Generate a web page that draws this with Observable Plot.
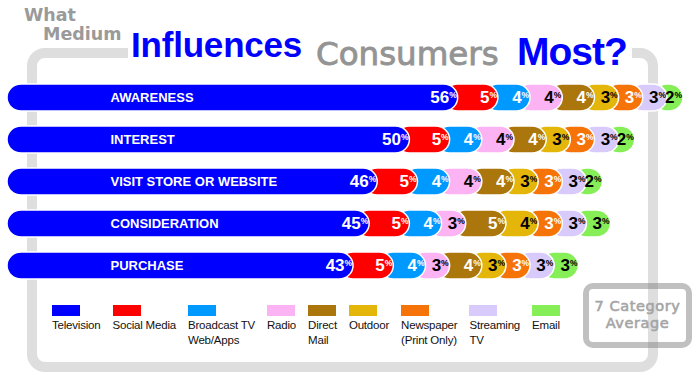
<!DOCTYPE html>
<html>
<head>
<meta charset="utf-8">
<script src="https://cdn.jsdelivr.net/npm/d3@7"></script>
<script src="https://cdn.jsdelivr.net/npm/@observablehq/plot@0.6"></script>
<style>
  html, body { margin: 0; padding: 0; background: white; }
  #wrap { position: relative; width: 700px; height: 380px; overflow: hidden; }
  #wrap > * { position: absolute; left: 0; top: 0; }
  #legend { left: 52px; top: 305px; display: flex; gap: 12px; font-family: "Liberation Sans", Arial, sans-serif; font-size: 11.5px; color: #111; }
  .sw { width: 28px; height: 11px; }
  .lb { margin-top: 2px; line-height: 15px; white-space: pre; letter-spacing: -0.2px; }
</style>
</head>
<body>
<div id="wrap">
  <svg id="bg" width="700" height="380">
    <rect x="32" y="53" width="621" height="314" rx="13" fill="none" stroke="#dedede" stroke-width="10"></rect>
    <rect x="128" y="44" width="504" height="18" fill="white"></rect>
    <text x="24" y="21" font-family="DejaVu Sans" font-weight="bold" font-size="17.5" fill="#9a9a9a">What</text>
    <text x="43" y="40" font-family="DejaVu Sans" font-weight="bold" font-size="17.5" fill="#9a9a9a">Medium</text>
    <text x="131" y="57" font-family="Liberation Sans, Arial" font-weight="bold" font-size="35" letter-spacing="-0.2" fill="#0000ff">Influences</text>
    <text x="316" y="65" font-family="DejaVu Sans" font-size="32.5" fill="#949494" stroke="#949494" stroke-width="0.9">Consumers</text>
    <text x="517" y="65" font-family="Liberation Sans, Arial" font-weight="bold" font-size="39" letter-spacing="-1" fill="#0000ff">Most?</text>
  </svg>
  <div id="plot"></div>
  <svg id="fg" width="700" height="380">
    <rect x="586" y="286" width="103" height="59" rx="7" fill="none" stroke="rgba(130,130,130,0.5)" stroke-width="6"></rect>
    <text x="637.5" y="311" text-anchor="middle" font-family="DejaVu Sans" font-size="14.5" letter-spacing="0.6" fill="#a5a5a5" stroke="#a5a5a5" stroke-width="0.6">7 Category</text>
    <text x="637.5" y="328" text-anchor="middle" font-family="DejaVu Sans" font-size="14.5" letter-spacing="0.6" fill="#a5a5a5" stroke="#a5a5a5" stroke-width="0.6">Average</text>
  </svg>
  <div id="legend"></div>
</div>
<script>
// ---- data ----
const stages = ["AWARENESS", "INTEREST", "VISIT STORE OR WEBSITE", "CONSIDERATION", "PURCHASE"];
const media = ["Television", "Social Media", "Broadcast TV Web/Apps", "Radio", "Direct Mail", "Outdoor", "Newspaper (Print Only)", "Streaming TV", "Email"];
const legendLabels = ["Television", "Social Media", "Broadcast TV\nWeb/Apps", "Radio", "Direct\nMail", "Outdoor", "Newspaper\n(Print Only)", "Streaming\nTV", "Email"];
const television  = [56, 50, 46, 45, 43];
const socialMedia = [5, 5, 5, 5, 5];
const broadcastTV = [4, 4, 4, 4, 4];
const radio       = [4, 4, 4, 3, 3];
const directMail  = [4, 4, 4, 5, 4];
const outdoor     = [3, 3, 3, 4, 3];
const newspaper   = [3, 3, 3, 3, 3];
const streamingTV = [3, 3, 3, 3, 3];
const email       = [2, 2, 2, 3, 3];

// ---- styles ----
const colors = ["#0000ff", "#ff0000", "#0099ff", "#fbb3f4", "#ab760b", "#e4b60a", "#f57307", "#d8cafa", "#86ef58"];
const darkText = ["Radio", "Outdoor", "Streaming TV", "Email"];

const seriesValues = [television, socialMedia, broadcastTV, radio, directMail, outdoor, newspaper, streamingTV, email];
const rows = [];
stages.forEach((stage, i) => {
  let acc = 0;
  media.forEach((m, j) => {
    const v = seriesValues[j][i];
    rows.push({stage, medium: m, j, value: v, start: acc, end: acc + v});
    acc += v;
  });
});
const drawOrder = rows.filter(d => d.j > 0).sort((a, b) => b.j - a.j);
const tv = rows.filter(d => d.j === 0);
const font = "Liberation Sans, Arial, sans-serif";
const light = d => !darkText.includes(d.medium);
const dark = d => darkText.includes(d.medium);

const chart = Plot.plot({
  width: 700,
  height: 380,
  marginLeft: 7,
  marginRight: 17,
  marginTop: 0,
  marginBottom: 0,
  style: {background: "transparent", overflow: "visible"},
  x: {domain: [0, 84], axis: null},
  y: {domain: stages, range: [67, 296.5], paddingInner: 0.347, paddingOuter: 0.347, axis: null},
  color: {domain: media, range: colors},
  marks: [
    Plot.barX(drawOrder, {x1: "start", x2: "end", y: "stage", fill: "medium", stroke: "white", strokeWidth: 1.5, rx: 14, insetLeft: -14}),
    Plot.barX(tv, {x1: "start", x2: "end", y: "stage", fill: "medium", stroke: "white", strokeWidth: 1.5, rx: 14}),
    Plot.text(stages, {y: d => d, frameAnchor: "left", dx: 103, textAnchor: "start", fill: "white", fontSize: 13, fontWeight: "bold", fontFamily: font, letterSpacing: "-0.2px"}),
    Plot.text(rows, {filter: light, x: "end", y: "stage", text: d => String(d.value), textAnchor: "end", dx: -9, fill: "white", fontSize: 17, fontWeight: "bold", fontFamily: font}),
    Plot.text(rows, {filter: dark, x: "end", y: "stage", text: d => String(d.value), textAnchor: "end", dx: -9, fill: "black", fontSize: 17, fontWeight: "bold", fontFamily: font}),
    Plot.text(rows, {filter: light, x: "end", y: "stage", text: () => "%", textAnchor: "start", dx: -9, dy: -3, fill: "white", fontSize: 8.5, fontWeight: "bold", fontFamily: font}),
    Plot.text(rows, {filter: dark, x: "end", y: "stage", text: () => "%", textAnchor: "start", dx: -9, dy: -3, fill: "black", fontSize: 8.5, fontWeight: "bold", fontFamily: font})
  ]
});
document.getElementById("plot").appendChild(chart);

// legend
const legend = d3.select("#legend");
legendLabels.forEach((lab, j) => {
  const item = legend.append("div");
  item.append("div").attr("class", "sw").style("background", colors[j]);
  item.append("div").attr("class", "lb").text(lab);
});
</script>
</body>
</html>
